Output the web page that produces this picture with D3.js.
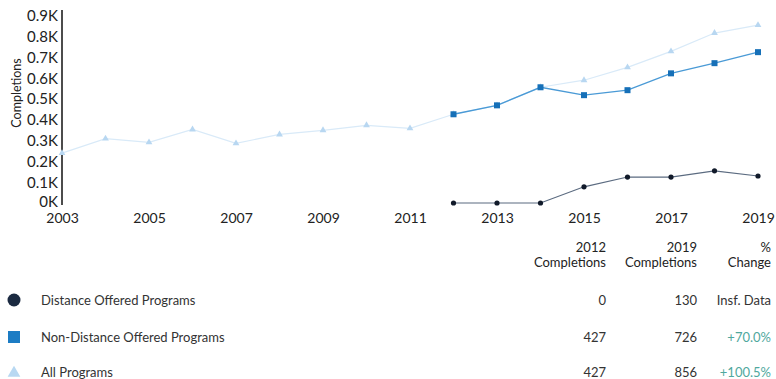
<!DOCTYPE html>
<html>
<head>
<meta charset="utf-8">
<script src="https://cdn.jsdelivr.net/npm/d3@7"></script>
<style>
  html, body { margin: 0; padding: 0; background: #fff; }
  svg { display: block; font-family: Lato, "Open Sans", sans-serif; }
</style>
</head>
<body>
<div id="chart"></div>
<script>
(function() {
  // data
  const YEARS_ALL = [2003, 2004, 2005, 2006, 2007, 2008, 2009, 2010, 2011, 2012, 2013, 2014, 2015, 2016, 2017, 2018, 2019];
  const ALL_VALUES = [240, 310, 292, 354, 287, 330, 350, 374, 359, 427, 470, 557, 591, 653, 730, 818, 856];
  const YEARS_RECENT = [2012, 2013, 2014, 2015, 2016, 2017, 2018, 2019];
  const NON_DISTANCE_VALUES = [427, 470, 557, 519, 543, 624, 673, 726];
  const DISTANCE_VALUES = [0, 0, 0, 78, 125, 125, 155, 130];
  const X_TICKS = [2003, 2005, 2007, 2009, 2011, 2013, 2015, 2017, 2019];
  const Y_TICKS = [0, 100, 200, 300, 400, 500, 600, 700, 800, 900];

  const TABLE_HEADERS = [["2012", "Completions"], ["2019", "Completions"], ["%", "Change"]];
  const SERIES_NAMES = ["Distance Offered Programs", "Non-Distance Offered Programs", "All Programs"];
  const COL_2012 = ["0", "427", "427"];
  const COL_2019 = ["130", "726", "856"];
  const COL_CHANGE = ["Insf. Data", "+70.0%", "+100.5%"];

  const W = 776, H = 379;
  const svg = d3.select("#chart").append("svg").attr("width", W).attr("height", H);

  const x = d3.scaleLinear().domain([2003, 2019]).range([62, 758]);
  const y = d3.scaleLinear().domain([0, 900]).range([203, 16]);

  // y axis
  const yAxis = svg.append("g")
    .attr("transform", "translate(62,0)")
    .call(d3.axisLeft(y).tickValues(Y_TICKS).tickSize(0).tickPadding(4)
      .tickFormat(d => (d / 1000) + "K"));
  yAxis.select(".domain").attr("stroke", "#111").attr("stroke-width", 1.5).attr("d", "M0,10V" + (y(0) + 2));
  yAxis.selectAll("text").attr("fill", "#222").style("font-size", "15px").style("font-family", "Lato");
  // nudge the 0K label up a bit, like the original
  yAxis.selectAll(".tick").filter(d => d === 0).select("text").attr("dy", "0.2em");

  svg.append("text")
    .attr("transform", "translate(21,93) rotate(-90)")
    .attr("text-anchor", "middle")
    .style("font-size", "12.5px")
    .attr("fill", "#222")
    .text("Completions");

  // x axis (labels only)
  const xAxis = svg.append("g")
    .attr("transform", "translate(0," + 207 + ")")
    .call(d3.axisBottom(x).tickValues(X_TICKS).tickSize(0).tickPadding(6).tickFormat(d3.format("d")));
  xAxis.select(".domain").remove();
  xAxis.selectAll("text").attr("fill", "#222").style("font-size", "14px").style("font-family", "Lato");

  const allData = YEARS_ALL.map((yr, i) => ({ yr, v: ALL_VALUES[i] }));
  const ndData = YEARS_RECENT.map((yr, i) => ({ yr, v: NON_DISTANCE_VALUES[i] }));
  const dData = YEARS_RECENT.map((yr, i) => ({ yr, v: DISTANCE_VALUES[i] }));

  const line = d3.line().x(d => x(d.yr)).y(d => y(d.v));

  // All programs
  svg.append("path").datum(allData)
    .attr("d", line).attr("fill", "none").attr("stroke", "#d9eaf8").attr("stroke-width", 1.2);
  svg.selectAll("path.tri").data(allData).enter().append("path")
    .attr("class", "tri")
    .attr("transform", d => `translate(${x(d.yr)},${y(d.v)})`)
    .attr("d", d3.symbol(d3.symbolTriangle, 20))
    .attr("fill", "#b8d7f1");

  // Non-distance
  svg.append("path").datum(ndData)
    .attr("d", line).attr("fill", "none").attr("stroke", "#4a9ad6").attr("stroke-width", 1.4);
  svg.selectAll("rect.sq").data(ndData).enter().append("rect")
    .attr("class", "sq")
    .attr("x", d => x(d.yr) - 3).attr("y", d => y(d.v) - 3)
    .attr("width", 6).attr("height", 6)
    .attr("fill", "#1670b8");

  // Distance
  svg.append("path").datum(dData)
    .attr("d", line).attr("fill", "none").attr("stroke", "#5b6b80").attr("stroke-width", 1.2);
  svg.selectAll("circle.dot").data(dData).enter().append("circle")
    .attr("class", "dot")
    .attr("cx", d => x(d.yr)).attr("cy", d => y(d.v))
    .attr("r", 2.6)
    .attr("fill", "#111a2a");

  // table header
  const colX = [606, 697, 771];
  TABLE_HEADERS.forEach((hdr, c) => {
    hdr.forEach((t, k) => {
      svg.append("text")
        .attr("x", colX[c]).attr("y", 252 + k * 15)
        .attr("text-anchor", "end")
        .style("font-size", "13px")
        .attr("fill", "#222")
        .text(t);
    });
  });

  // legend rows
  const rowY = [300, 337, 372];
  const legend = svg.append("g");
  legend.append("circle").attr("cx", 14).attr("cy", rowY[0]).attr("r", 6.5)
    .attr("fill", "#1b2a41");
  legend.append("rect").attr("x", 8).attr("y", rowY[1] - 6).attr("width", 12).attr("height", 12)
    .attr("fill", "#1c7cc4");
  legend.append("path").attr("transform", `translate(14,${rowY[2] + 1})`)
    .attr("d", d3.symbol(d3.symbolTriangle, 70)).attr("fill", "#b8d8f2");

  SERIES_NAMES.forEach((name, i) => {
    svg.append("text").attr("x", 41).attr("y", rowY[i] + 4.5)
      .style("font-size", "13px").attr("fill", "#333").text(name);
    svg.append("text").attr("x", colX[0]).attr("y", rowY[i] + 4.5)
      .attr("text-anchor", "end").style("font-size", "13px").attr("fill", "#333").text(COL_2012[i]);
    svg.append("text").attr("x", colX[1]).attr("y", rowY[i] + 4.5)
      .attr("text-anchor", "end").style("font-size", "13px").attr("fill", "#333").text(COL_2019[i]);
    svg.append("text").attr("x", colX[2]).attr("y", rowY[i] + 4.5)
      .attr("text-anchor", "end").style("font-size", "13px")
      .attr("fill", COL_CHANGE[i].startsWith("+") ? "#4fa89e" : "#333")
      .text(COL_CHANGE[i]);
  });
})();
</script>
</body>
</html>
